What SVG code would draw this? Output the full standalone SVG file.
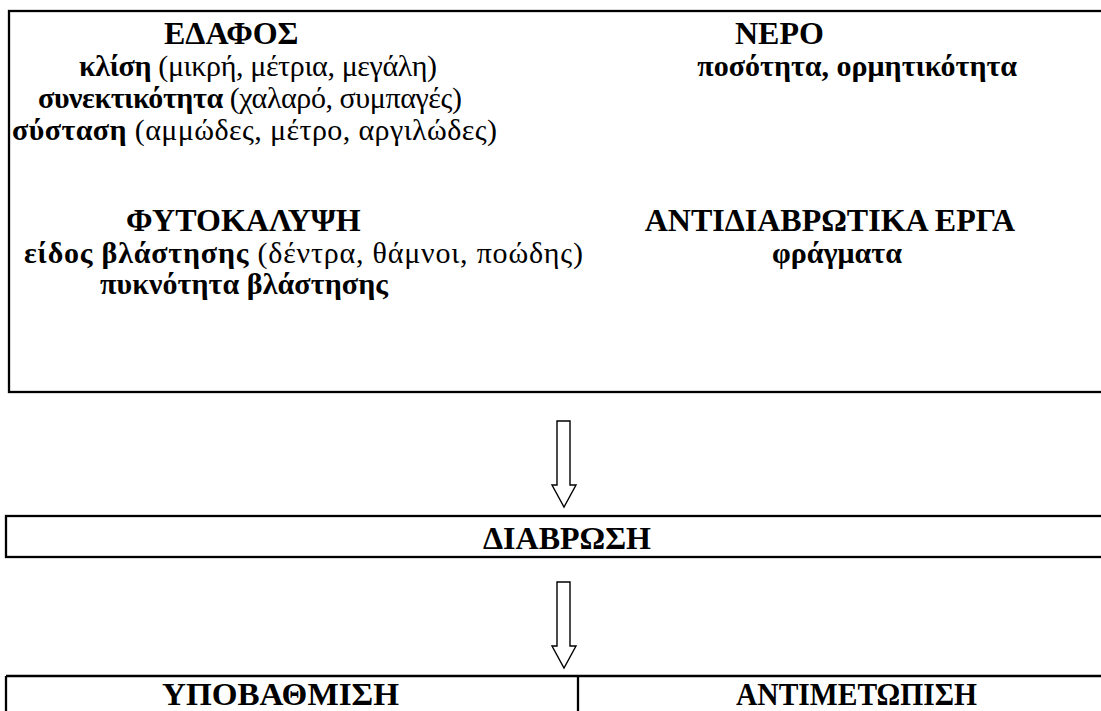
<svg xmlns="http://www.w3.org/2000/svg" width="1101" height="711" viewBox="0 0 1101 711">
<style>
text{font-family:"Liberation Serif","DejaVu Serif","Times New Roman",serif;fill:#000}
.h{font-weight:bold;font-size:32px}
.b{font-size:30px}
.bb{font-weight:bold}
.box{fill:none;stroke:#000;stroke-width:2.3}
.arr{fill:#fff;stroke:#000;stroke-width:1.4;stroke-linejoin:miter}
</style>
<rect width="1101" height="711" fill="#fff"/>
<g id="factors">
<rect class="box" x="9" y="11" width="1100" height="381"/>
<text class="h" x="164" y="44">ΕΔΑΦΟΣ</text>
<text class="b" x="79" y="76" textLength="358"><tspan class="bb">κλίση</tspan> (μικρή, μέτρια, μεγάλη)</text>
<text class="b" x="38" y="108" textLength="424"><tspan class="bb">συνεκτικότητα</tspan> (χαλαρό, συμπαγές)</text>
<text class="b" x="12" y="140" textLength="485"><tspan class="bb">σύσταση</tspan> (αμμώδες, μέτρο, αργιλώδες)</text>
<text class="h" x="735" y="44">ΝΕΡΟ</text>
<text class="b bb" x="1017" y="76" text-anchor="end">ποσότητα, ορμητικότητα</text>
<text class="h" x="126" y="231">ΦΥΤΟΚΑΛΥΨΗ</text>
<text class="b" x="24" y="263" textLength="559"><tspan class="bb">είδος βλάστησης</tspan> (δέντρα, θάμνοι, ποώδης)</text>
<text class="b bb" x="100" y="294" textLength="288">πυκνότητα βλάστησης</text>
<text class="h" x="1015" y="231" text-anchor="end">ΑΝΤΙΔΙΑΒΡΩΤΙΚΑ ΕΡΓΑ</text>
<text class="b bb" x="772" y="263">φράγματα</text>
</g>
<g id="connectors">
<path class="arr" d="M557,421 H570 V485 H576 L564,507 L552,485 H557 Z"/>
<path class="arr" d="M557,582 H570 V646 H576 L564,668 L552,646 H557 Z"/>
</g>
<g id="diavrosi">
<rect class="box" x="6" y="516" width="1100" height="41"/>
<text class="h" x="483" y="549" font-size="31">ΔΙΑΒΡΩΣΗ</text>
</g>
<g id="outcomes">
<path class="box" d="M6,676 H1110 M6,676 V720 M578,676 V720"/>
<text class="h" x="162" y="705" font-size="31" textLength="237" lengthAdjust="spacingAndGlyphs">ΥΠΟΒΑΘΜΙΣΗ</text>
<text class="h" x="736" y="705" font-size="31" textLength="241" lengthAdjust="spacingAndGlyphs">ΑΝΤΙΜΕΤΩΠΙΣΗ</text>
</g>
</svg>
